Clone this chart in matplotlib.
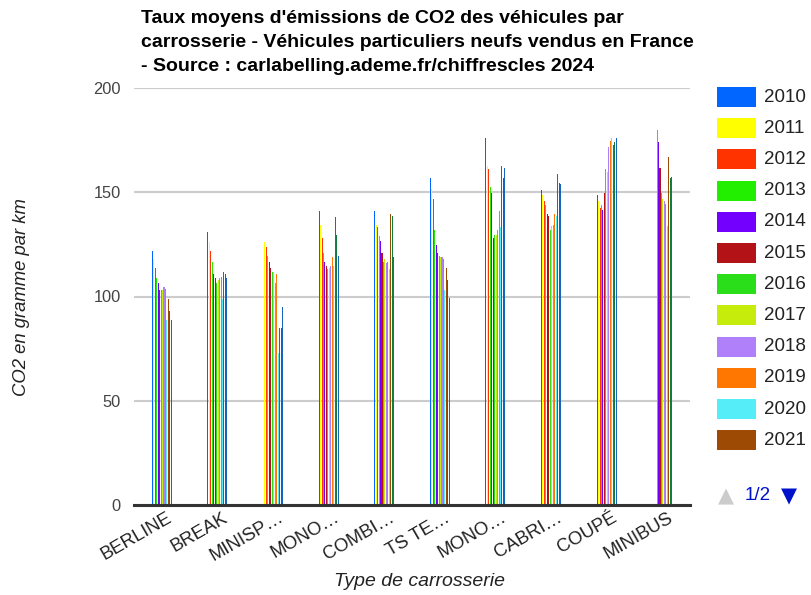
import numpy as np
import matplotlib
matplotlib.use("Agg")
import matplotlib.pyplot as plt
import matplotlib.transforms as mtransforms
from matplotlib.patches import Rectangle

plt.rcParams['font.family'] = ['Liberation Sans', 'DejaVu Sans']

nan = np.nan

# body types (labels are truncated as in the source chart)
categories = ["BERLINE", "BREAK", "MINISP\u2026", "MONO\u2026", "COMBI\u2026",
              "TS TE\u2026", "MONO\u2026", "CABRI\u2026", "COUP\u00c9", "MINIBUS"]

years = ["2010", "2011", "2012", "2013", "2014", "2015", "2016",
         "2017", "2018", "2019", "2020", "2021", "2022", "2023"]

# average CO2 g/km per body type, one list per year
co2_2010 = [121.8, 131.0, nan, 141.0, 141.0, 156.8, 176.0, 151.0, 148.7, nan]
co2_2011 = [118.0, 126.3, 126.1, 134.3, 134.3, 151.6, 162.6, 148.7, 145.8, nan]
co2_2012 = [113.7, 121.8, 123.7, 128.0, 133.3, 146.8, 161.1, 145.8, 142.4, nan]
co2_2013 = [108.9, 116.5, 119.4, 120.9, 129.0, 131.9, 152.5, 143.9, 143.9, 180.0]
co2_2014 = [106.5, 110.8, 116.5, 116.5, 126.6, 124.7, 149.6, 139.6, 141.5, 174.0]
co2_2015 = [103.2, 108.9, 113.7, 114.6, 120.9, 120.9, 128.0, 138.6, 149.6, 161.6]
co2_2016 = [103.2, 106.5, 111.8, 113.2, 116.5, 119.4, 129.5, 131.9, 161.1, 149.6]
co2_2017 = [103.0, 107.9, 111.8, 113.7, 118.0, 119.0, 129.5, 133.8, 159.7, 146.8]
co2_2018 = [104.6, 108.9, 106.5, 114.6, 116.0, 119.0, 131.9, 134.3, 171.7, 145.8]
co2_2019 = [103.6, 109.4, 110.8, 119.0, 116.5, 118.0, 141.0, 139.6, 174.6, 144.4]
co2_2020 = [88.7, 98.8, 72.9, 114.6, 113.2, 103.1, 133.3, 138.6, 176.0, 133.8]
co2_2021 = [98.8, 111.8, 84.9, 138.1, 139.6, 113.7, 162.6, 158.8, 172.7, 166.9]
co2_2022 = [93.0, 110.8, 84.9, 129.5, 138.6, 107.9, 156.8, 154.4, 174.1, 156.8]
co2_2023 = [88.7, 108.9, 95.0, 119.4, 119.0, 99.3, 161.6, 154.0, 176.0, 157.3]

series = [co2_2010, co2_2011, co2_2012, co2_2013, co2_2014, co2_2015, co2_2016,
          co2_2017, co2_2018, co2_2019, co2_2020, co2_2021, co2_2022, co2_2023]

colors = ["#0066ff", "#ffff00", "#ff3300", "#22ee00", "#7300ff", "#b31217",
          "#2ade1a", "#c6ec0c", "#b080fa", "#ff7700", "#55eef8", "#9c4a04",
          "#0e7c3a", "#1565c0"]

W, H = 811, 595
fig = plt.figure(figsize=(W / 100, H / 100), dpi=100)
ax = fig.add_axes([134 / W, 90 / H, 556 / W, 417 / H])

n = len(series)
slot = 1.46 / 55.6
x = np.arange(len(categories))
for k, vals in enumerate(series):
    ax.bar(x + (k - (n - 1) / 2) * slot, vals, width=slot * 0.72,
           color=colors[k], linewidth=0, zorder=3)

ax.set_xlim(-0.5, len(categories) - 0.5)
ax.set_ylim(0, 200)
ax.set_yticks([0, 50, 100, 150, 200])
ax.yaxis.grid(True, color="#cccccc", linewidth=1.5, zorder=0)
ax.axhline(0, color="#333333", linewidth=2.2, zorder=4, clip_on=False)
for s in ax.spines.values():
    s.set_visible(False)
ax.tick_params(axis="y", length=0, pad=9.5, labelsize=11.8, labelcolor="#444444")
ax.tick_params(axis="x", length=0, pad=3, labelsize=13.3, labelcolor="#222222")
ax.set_xticks(x)
ax.set_xticklabels(categories, rotation=30, ha="right", va="top",
                   rotation_mode="anchor")
offs = mtransforms.ScaledTranslation(5 / 100, 0, fig.dpi_scale_trans)
for lbl in ax.get_xticklabels():
    lbl.set_transform(lbl.get_transform() + offs)

title = ("Taux moyens d'\u00e9missions de CO2 des v\u00e9hicules par\n"
         "carrosserie - V\u00e9hicules particuliers neufs vendus en France\n"
         "- Source : carlabelling.ademe.fr/chiffrescles 2024")
fig.text(141 / W, 1 - 10 / H, title, ha="left", va="top", fontsize=14,
         fontweight="bold", color="#000000", linespacing=1.55)

fig.text(22 / W, 1 - 297 / H, "CO2 en gramme par km", rotation=90,
         ha="center", va="center", fontsize=13.3, style="italic", color="#222222")
fig.text(419 / W, 1 - 582 / H, "Type de carrosserie", ha="center",
         va="center", fontsize=14, style="italic", color="#222222")

# legend, first page
for k in range(12):
    cy = 97 + 31.2 * k
    fig.patches.append(Rectangle((717 / W, 1 - (cy + 10) / H), 39 / W, 20 / H,
                                 transform=fig.transFigure, facecolor=colors[k],
                                 edgecolor="none"))
    fig.text(764 / W, 1 - cy / H, years[k], ha="left", va="center",
             fontsize=13.5, color="#222222")

fig.text(726 / W, 1 - 496 / H, "\u25b2", ha="center", va="center",
         fontsize=15, color="#cccccc", family="DejaVu Sans")
fig.text(758 / W, 1 - 496 / H, "1/2", ha="center", va="center",
         fontsize=13.5, color="#0011cc")
fig.text(789 / W, 1 - 496 / H, "\u25bc", ha="center", va="center",
         fontsize=15, color="#0011cc", family="DejaVu Sans")

fig.savefig("out.png", dpi=100)
